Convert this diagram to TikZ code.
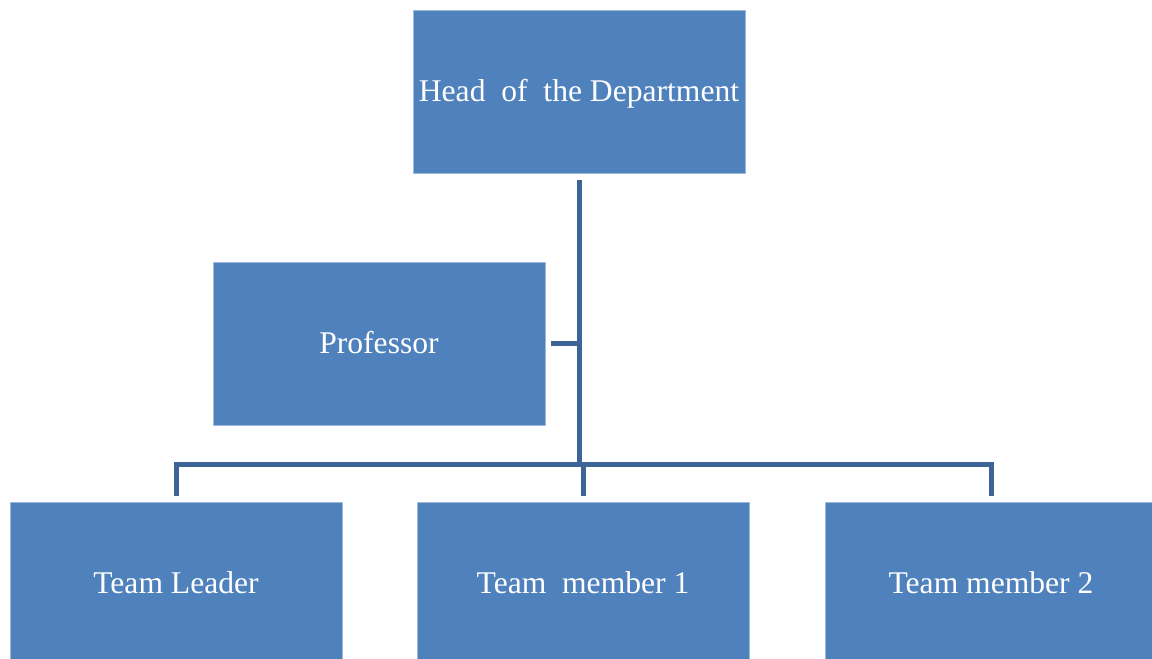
\documentclass[tikz,border=0pt]{standalone}
\usepackage{fontspec}
\setmainfont{Liberation Serif}
\newfontfamily\boxfont{Liberation Serif}
\usetikzlibrary{calc}
\definecolor{boxblue}{RGB}{79,129,189}
\definecolor{linkblue}{RGB}{60,100,150}
\begin{document}
\begin{tikzpicture}[x=1pt,y=-1pt,
  orgbox/.style={rectangle, fill=boxblue, draw=boxblue!55!white, line width=0.8pt,
    minimum width=332pt, minimum height=163pt, inner sep=0pt, text=white,
    text height=26pt, text depth=6pt,
    font=\boxfont\fontsize{31.6}{36}\selectfont},
  link/.style={draw=linkblue, line width=5pt}]
\useasboundingbox (0,0) rectangle (1152,659);
\clip (0,0) rectangle (1152,659);
\node[orgbox] (head) at (579,91.5) {Head\ \ of\ \ the Department};
\node[orgbox] (prof) at (379,343.5) {Professor};
\node[orgbox] (tl) at (176,583.5) {Team Leader};
\node[orgbox] (tm1) at (583,583.5) {Team\ \ member 1};
\node[orgbox] (tm2) at (991,583.5) {Team member 2};
\coordinate (hub) at (579,464.5);
\draw[link] ($(head.south)+(0,7)$) -- (hub);
\draw[link] ($(prof.east)+(6,0)$) -- (prof.east -| hub);
\draw[link] ($(tl.north)+(0,-6)$) |- (hub) -| ($(tm2.north)+(0,-6)$);
\draw[link] ($(tm1.north)+(0,-6)$) -- (tm1.north |- hub);
\end{tikzpicture}
\end{document}
